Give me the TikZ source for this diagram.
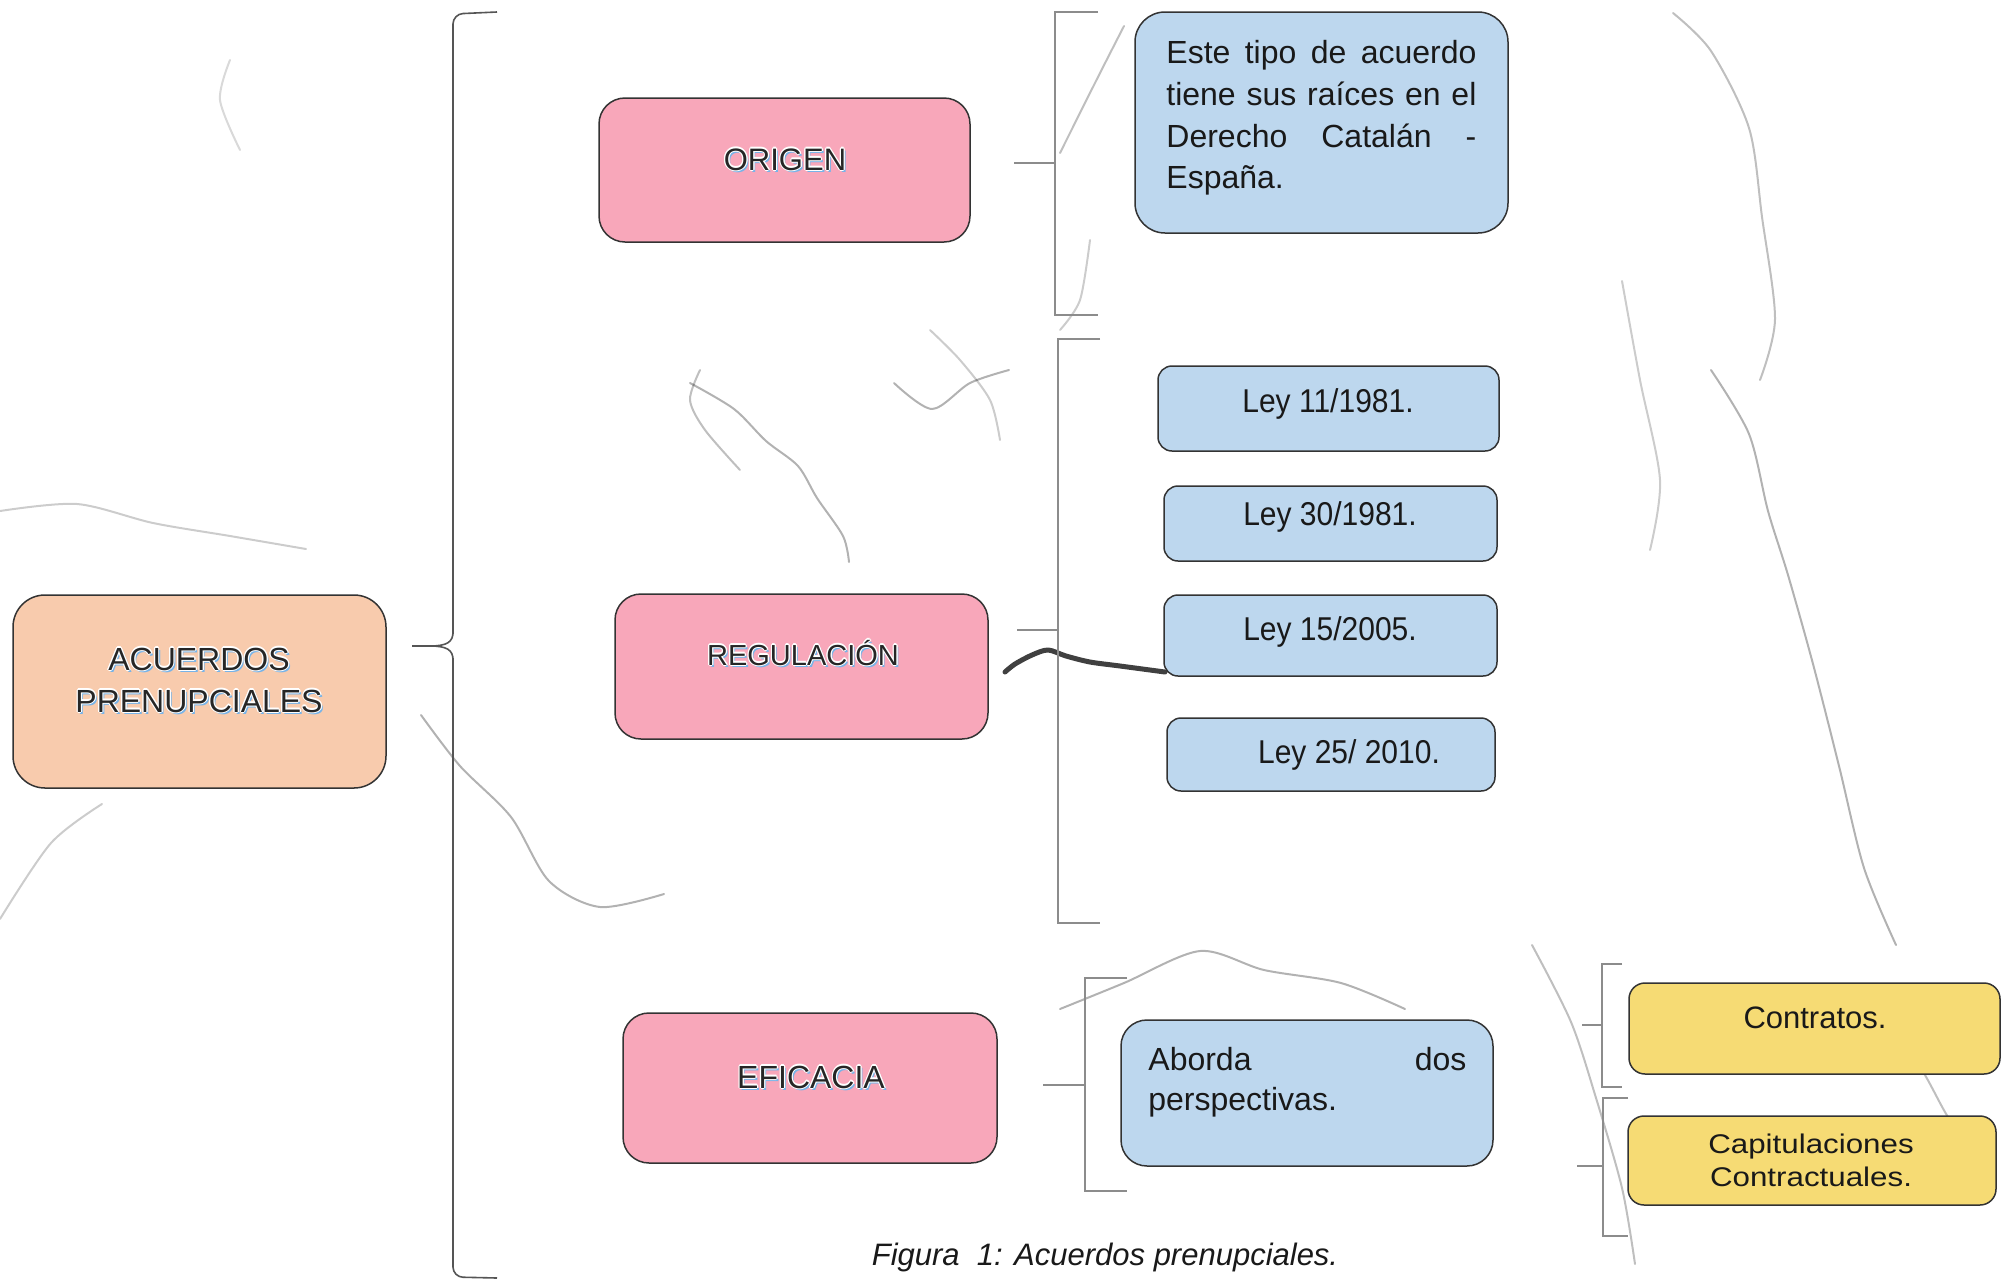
\documentclass[tikz,border=0pt]{standalone}
\usepackage{fontspec}
\setmainfont{Liberation Sans}
\usepackage{graphicx}
\definecolor{peach}{HTML}{F8CBAD}
\definecolor{pinkb}{HTML}{F8A7BA}
\definecolor{blueb}{HTML}{BDD7EE}
\definecolor{yelb}{HTML}{F6DB74}
\definecolor{sblue}{HTML}{78B4E8}
\definecolor{brkc}{HTML}{8C8C8C}
\definecolor{bracec}{HTML}{555555}
\newcommand\fxcopy[3]{\rlap{\hspace*{#1}\raisebox{#2}{#3}}}
\newcommand\fxt[1]{\fxcopy{1pt}{-1pt}{\color{sblue}#1}%
 \fxcopy{0.6pt}{0pt}{\color{white}#1}\fxcopy{-0.6pt}{0pt}{\color{white}#1}%
 \fxcopy{0pt}{0.6pt}{\color{white}#1}\fxcopy{0pt}{-0.6pt}{\color{white}#1}%
 \fxcopy{0.45pt}{0.45pt}{\color{white}#1}\fxcopy{-0.45pt}{-0.45pt}{\color{white}#1}%
 \fxcopy{0.45pt}{-0.45pt}{\color{white}#1}\fxcopy{-0.45pt}{0.45pt}{\color{white}#1}%
 {\color{black!85}#1}}
\newcommand\fA{\fontsize{16pt}{20pt}\selectfont}
\newcommand\fL{\fontsize{15pt}{19pt}\selectfont}
\tikzset{
 bx/.style={draw=black!80, line width=0.75pt, rounded corners=#1, inner sep=0pt},
 tx/.style={inner sep=0pt, anchor=base, text=black!90},
 txw/.style={inner sep=0pt, anchor=base west, text=black!90},
 brk/.style={draw=brkc, line width=0.75pt},
 bracestyle/.style={draw=bracec, line width=0.8pt},
 vein/.style={draw=black, opacity=#1, line cap=round, line join=round},
}
\begin{document}
\begin{tikzpicture}[x=0.5pt, y=-0.5pt]
\fill[white] (0,0) rectangle (2002,1280);
\useasboundingbox (0,0) rectangle (2002,1280);
% marble veins
\begin{scope}[line width=1pt]
\draw[vein=0.3] plot[smooth] coordinates {(690,383)(734,409)(766,441)(798,466)(817,498)(843,536)(849,562)};
\draw[vein=0.25] plot[smooth] coordinates {(700,370)(690,400)(705,430)(740,470)};
\draw[vein=0.3] plot[smooth] coordinates {(894,383)(932,409)(970,383)(1009,370)};
\draw[vein=0.2] plot[smooth] coordinates {(930,330)(960,360)(990,400)(1000,440)};
\draw[vein=0.3] plot[smooth] coordinates {(1711,370)(1749,434)(1768,511)(1788,575)(1813,664)(1839,766)(1864,868)(1896,945)};
\draw[vein=0.25] plot[smooth] coordinates {(1673,13)(1711,51)(1749,128)(1762,217)(1775,319)(1760,380)};
\draw[vein=0.2] plot[smooth] coordinates {(0,511)(77,504)(153,523)(230,536)(306,549)};
\draw[vein=0.3] plot[smooth] coordinates {(1060,1009)(1124,983)(1200,951)(1264,970)(1341,983)(1405,1009)};
\draw[vein=0.3] plot[smooth] coordinates {(421,715)(460,766)(511,817)(549,881)(600,907)(664,894)};
\draw[vein=0.25] plot[smooth] coordinates {(1532,945)(1571,1022)(1596,1098)(1622,1188)(1635,1264)};
\draw[vein=0.2] plot[smooth] coordinates {(0,919)(51,843)(102,804)};
\draw[vein=0.25] plot[smooth] coordinates {(1851,996)(1915,1060)(1953,1124)(1992,1149)};
\draw[vein=0.25] plot[smooth] coordinates {(1060,153)(1098,77)(1124,26)};
\draw[vein=0.2] plot[smooth] coordinates {(1090,240)(1080,300)(1060,330)};
\draw[vein=0.15] plot[smooth] coordinates {(230,60)(220,100)(240,150)};
\draw[vein=0.2] plot[smooth] coordinates {(1622,281)(1640,380)(1660,480)(1650,550)};
\draw[vein=0.75, line width=2.5pt] plot[smooth] coordinates {(1005,672)(1015,664)(1032,655)(1048,650)(1066,656)(1090,662)(1120,666)(1165,672)};
\end{scope}
% big brace
\draw[bracestyle, rounded corners=5pt] (497,12) -- (453,14) -- (453,634);
\draw[bracestyle] (453,632) .. controls (453,642) and (447,646) .. (430,646) -- (412,646);
\draw[bracestyle] (412,646) -- (430,646) .. controls (447,646) and (453,650) .. (453,660);
\draw[bracestyle, rounded corners=5pt] (453,658) -- (453,1277) -- (497,1278);
% brackets
\draw[brk] (1098,12) -- (1055,12) -- (1055,315) -- (1098,315);
\draw[brk] (1014,163) -- (1055,163);
\draw[brk] (1100,339) -- (1058,339) -- (1058,923) -- (1100,923);
\draw[brk] (1017,630) -- (1058,630);
\draw[brk] (1127,978) -- (1085,978) -- (1085,1191) -- (1127,1191);
\draw[brk] (1043,1085) -- (1085,1085);
\draw[brk] (1622,964) -- (1602,964) -- (1602,1087) -- (1622,1087);
\draw[brk] (1582,1025) -- (1602,1025);
\draw[brk] (1628,1098) -- (1603,1098) -- (1603,1236) -- (1628,1236);
\draw[brk] (1577,1166) -- (1603,1166);
% boxes
\node[bx=16pt, fill=peach, minimum width=186.5pt, minimum height=96.5pt] (acuerdos) at (199.5,691.5) {};
\node[bx=13pt, fill=pinkb, minimum width=185.5pt, minimum height=72pt] (origen) at (784.5,170) {};
\node[bx=13pt, fill=pinkb, minimum width=186.5pt, minimum height=72.5pt] (regulacion) at (801.5,666.5) {};
\node[bx=13pt, fill=pinkb, minimum width=187pt, minimum height=75pt] (eficacia) at (810,1088) {};
\node[bx=15pt, fill=blueb, minimum width=186.5pt, minimum height=110.5pt] (este) at (1321.5,122.5) {};
\node[bx=7pt, fill=blueb, minimum width=170.5pt, minimum height=42.5pt] (ley1) at (1328.5,408.5) {};
\node[bx=7pt, fill=blueb, minimum width=166.5pt, minimum height=37.5pt] (ley2) at (1330.5,523.5) {};
\node[bx=7pt, fill=blueb, minimum width=166.5pt, minimum height=40.5pt] (ley3) at (1330.5,635.5) {};
\node[bx=7pt, fill=blueb, minimum width=164pt, minimum height=36.5pt] (ley4) at (1331,754.5) {};
\node[bx=13pt, fill=blueb, minimum width=186pt, minimum height=73pt] (aborda) at (1307,1093) {};
\node[bx=8pt, fill=yelb, minimum width=185.5pt, minimum height=45.5pt] (contratos) at (1814.5,1028.5) {};
\node[bx=8pt, fill=yelb, minimum width=184pt, minimum height=44.5pt] (capit) at (1812,1160.5) {};
% texts
\node[tx] (tac1) at (199,670) {\fA\fxt{ACUERDOS}};
\node[tx] (tac2) at (199,712) {\fA\fxt{PRENUPCIALES}};
\node[tx] (tor) at (785,170) {\fontsize{15.5pt}{18pt}\selectfont\fxt{ORIGEN}};
\node[tx] (treg) at (803,665) {\fontsize{14.5pt}{18pt}\selectfont\fxt{REGULACIÓN}};
\node[tx] (tef) at (811,1088) {\fA\fxt{EFICACIA}};
\node[txw] (te1) at (1166,63) {\fA\makebox[155pt][s]{Este tipo de acuerdo}};
\node[txw] (te2) at (1166,105) {\fA\makebox[155pt][s]{tiene sus raíces en el}};
\node[txw] (te3) at (1166,147) {\fA\makebox[155pt][s]{Derecho Catalán -}};
\node[txw] (te4) at (1166,188) {\fA España.};
\node[tx] (tl1) at (1328,412) {\scalebox{1}[1.1]{\fL Ley 11/1981.}};
\node[tx] (tl2) at (1330,525) {\scalebox{1}[1.1]{\fL Ley 30/1981.}};
\node[tx] (tl3) at (1330,640) {\scalebox{1}[1.1]{\fL Ley 15/2005.}};
\node[tx] (tl4) at (1349,763) {\scalebox{1}[1.1]{\fL Ley 25/ 2010.}};
\node[txw] (ta1) at (1148,1070) {\fA\makebox[159pt][s]{Aborda dos}};
\node[txw] (ta2) at (1148,1110) {\fA perspectivas.};
\node[tx] (tco) at (1815,1028) {\fontsize{15.5pt}{19pt}\selectfont Contratos.};
\node[tx] (tca1) at (1811,1153) {\scalebox{1.16}[1]{\fontsize{13.5pt}{16pt}\selectfont Capitulaciones}};
\node[tx] (tca2) at (1811,1186) {\scalebox{1.16}[1]{\fontsize{13.5pt}{16pt}\selectfont Contractuales.}};
\node[tx] (caption) at (1105,1265) {\fontsize{15.5pt}{19pt}\selectfont\itshape Figura\ \ 1: Acuerdos prenupciales.};
\end{tikzpicture}
\end{document}
